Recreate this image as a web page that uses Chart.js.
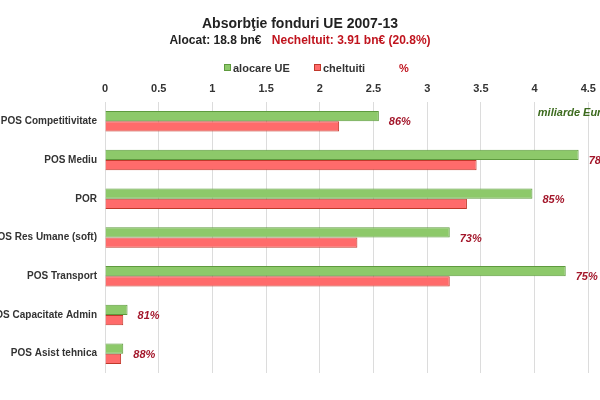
<!DOCTYPE html>
<html>
<head>
<meta charset="utf-8">
<script src="https://cdn.jsdelivr.net/npm/chart.js@4.4.1/dist/chart.umd.min.js"></script>
<style>
html,body{margin:0;padding:0;background:#fff;overflow:hidden;width:600px;height:400px;font-family:"Liberation Sans",Arial,sans-serif}
#wrap{position:absolute;left:0;top:0;width:690px;height:400px}
.hd{position:absolute;left:0;width:600px;text-align:center;font-weight:bold;color:#222;white-space:nowrap}
#title{top:15px;font-size:14px}
#sub{top:33px;font-size:12px}
#sub .red{color:#c0141e;margin-left:7px}
.lg{position:absolute;top:61px;font-size:11px;font-weight:bold;color:#333;white-space:nowrap;line-height:14px}
.box{display:inline-block;width:5px;height:5px;margin-right:2px;vertical-align:1px}
</style>
</head>
<body>
<div id="wrap"><canvas id="chart" width="690" height="400"></canvas></div>
<div class="hd" id="title">Absorbţie fonduri UE 2007-13</div>
<div class="hd" id="sub">Alocat: 18.8 bn€ <span class="red">Necheltuit: 3.91 bn€ (20.8%)</span></div>
<div class="lg" style="left:224px"><span class="box" style="background:#8dc96a;border:1px solid #5e9a3e"></span>alocare UE</div>
<div class="lg" style="left:314px"><span class="box" style="background:#ff6b6b;border:1px solid #c0392b"></span>cheltuiti</div>
<div class="lg" style="left:399px;color:#c0141e">%</div>
<script>
// values, bn EUR
const categories=['POS Competitivitate','POS Mediu','POR','POS Res Umane (soft)','POS Transport','POS Capacitate Admin','POS Asist tehnica'];
const allocated=[2.55,4.41,3.98,3.21,4.29,0.21,0.17];
const spent=[2.18,3.46,3.37,2.35,3.21,0.17,0.15];
const pctLabels=['86%','78%','85%','73%','75%','81%','88%'];
const xMax=5, xStep=0.5;

const pctPlugin={
  id:'pct',
  afterDatasetsDraw(chart){
    const ctx=chart.ctx, xs=chart.scales.x, ys=chart.scales.y;
    ctx.save();
    ctx.font='italic bold 11px "Liberation Sans", Arial, sans-serif';
    ctx.fillStyle='#a3162a';
    ctx.textAlign='left';
    ctx.textBaseline='middle';
    pctLabels.forEach((t,i)=>{
      ctx.fillText(t, xs.getPixelForValue(allocated[i])+10, ys.getPixelForValue(i)+1);
    });
    ctx.fillStyle='#3d6b1f';
    ctx.fillText('miliarde Euro', xs.getPixelForValue(4.03), chart.chartArea.top+11);
    ctx.restore();
  }
};

new Chart(document.getElementById('chart'),{
  type:'bar',
  data:{
    labels:categories,
    datasets:[
      {label:'alocare UE',data:allocated,backgroundColor:'#8dc96a',borderColor:'#5e9a3e',borderWidth:1},
      {label:'cheltuiti',data:spent,backgroundColor:'#ff6b6b',borderColor:'#c0392b',borderWidth:1}
    ]
  },
  options:{
    indexAxis:'y',
    responsive:false,
    animation:false,
    barPercentage:1,
    categoryPercentage:0.53,
    layout:{padding:{top:80,bottom:27,left:0,right:48}},
    plugins:{legend:{display:false},tooltip:{enabled:false},title:{display:false}},
    scales:{
      x:{
        position:'top',min:0,max:xMax,
        ticks:{stepSize:xStep,padding:6,color:'#333',callback:v=>String(v),
          font:{size:11,weight:'bold',family:'"Liberation Sans", Arial, sans-serif'}},
        grid:{color:'#dcdcdc',drawTicks:false},
        border:{display:false},
        afterFit(s){s.height=22;}
      },
      y:{
        ticks:{padding:8,color:'#333',font:{size:10,weight:'bold',family:'"Liberation Sans", Arial, sans-serif'}},
        grid:{display:false,drawTicks:false},
        border:{display:false},
        afterFit(s){s.width=105;}
      }
    }
  },
  plugins:[pctPlugin]
});
</script>
</body>
</html>
